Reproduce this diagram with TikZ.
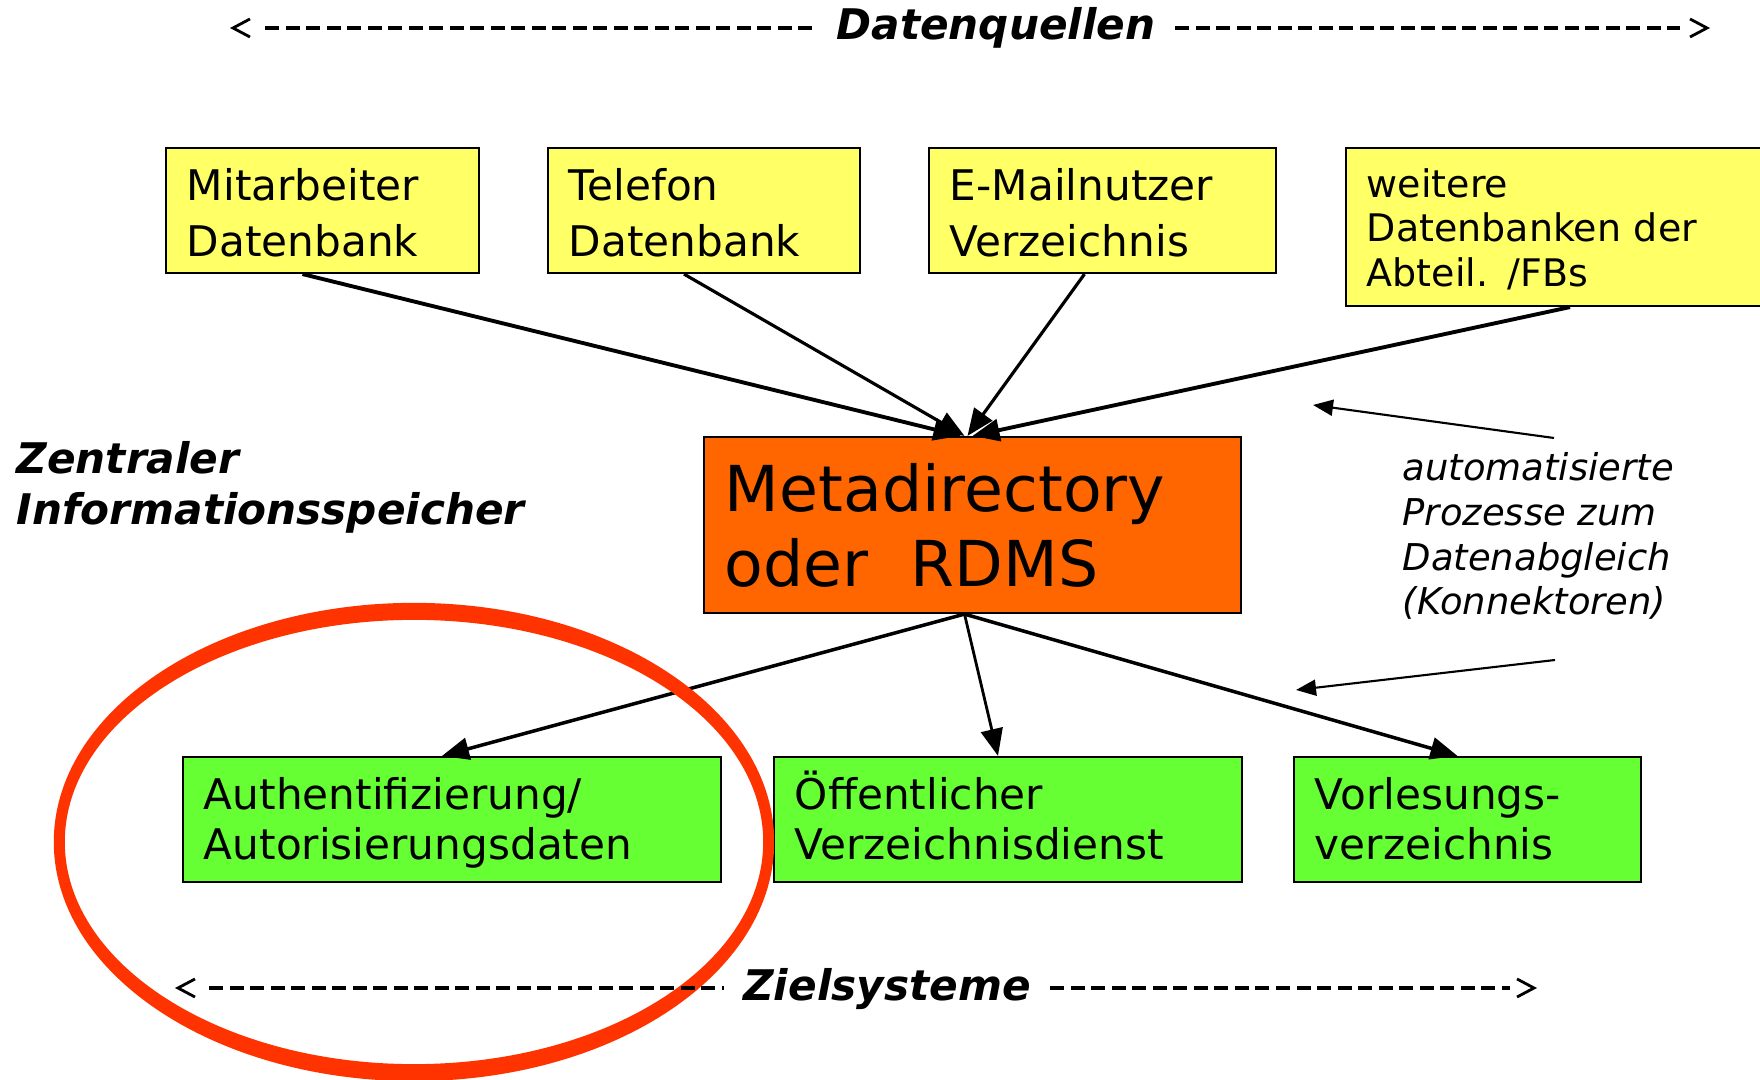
\documentclass[tikz,border=0pt]{standalone}
\usepackage{fontspec}
\setmainfont{DejaVu Sans}
\usepackage{xcolor}
\usepackage{tikz}
\usetikzlibrary{arrows.meta}
\usetikzlibrary{positioning}
\definecolor{srcyellow}{HTML}{FFFF66}
\definecolor{metaorange}{HTML}{FF6600}
\definecolor{tgtgreen}{HTML}{66FF33}
\definecolor{ringred}{HTML}{FF3300}
\tikzset{
    lines/.style 2 args = {execute at begin node={\rule{0pt}{#1}}, execute at end node={\rule[-#2]{0pt}{#2}}},
    srcbox/.style = {rectangle, draw=black, line width=0.6pt, fill=srcyellow, align=left, inner xsep=0.21cm, inner ysep=0pt, minimum height=1.25cm, font=\fontsize{12pt}{15.9pt}\selectfont, lines={10.5pt}{0pt}},
    metabox/.style = {rectangle, draw=black, line width=0.6pt, fill=metaorange, align=left, inner xsep=0.21cm, inner ysep=0pt, minimum height=1.76cm, font=\fontsize{18pt}{21.3pt}\selectfont, lines={14pt}{0pt}},
    tgtbox/.style = {rectangle, draw=black, line width=0.6pt, fill=tgtgreen, align=left, inner xsep=0.21cm, inner ysep=0pt, minimum height=1.25cm, font=\fontsize{12pt}{14.46pt}\selectfont, lines={12pt}{3.5pt}},
    feed/.style = {-{Triangle[length=0.27cm, width=0.22cm]}, line width=1pt},
    hint/.style = {-{Triangle[length=0.2cm, width=0.16cm]}, line width=0.6pt},
    head/.style = {inner xsep=0.19cm, inner ysep=0pt, font=\fontsize{12pt}{14pt}\selectfont\bfseries\itshape},
    hdash/.style = {line width=1.3pt, dash pattern=on 0.14cm off 0.065cm},
    chev/.style = {line width=0.8pt},
}

\begin{document}
\begin{tikzpicture}[x=0.01cm, y=-0.01cm]
  \useasboundingbox (0,0) rectangle (1760,1080);

  % data sources
  \node[srcbox, text width=2.71cm] (mitarb) at (322.5,210.5) {Mitarbeiter\\Datenbank};
  \node[srcbox, text width=2.70cm] (telefon) at (704,210.5) {Telefon\\Datenbank};
  \node[srcbox, text width=3.05cm] (email) at (1102.5,210.5) {E-Mailnutzer\\Verzeichnis};
  \node[srcbox, text width=4.06cm, minimum height=1.58cm, font=\fontsize{10.8pt}{12.6pt}\selectfont, lines={9.1pt}{2pt}] (weitere) at (1570,227) {weitere\\Datenbanken der\\Abteil. /FBs};

  % central store
  \node[metabox, text width=4.95cm] (meta) at (972.5,525) {Metadirectory\\oder\ \ RDMS};

  % target systems
  \node[tgtbox, text width=4.96cm] (auth) at (452,819.5) {Authentifizierung/\\Autorisierungsdaten};
  \node[tgtbox, text width=4.26cm] (oeff) at (1008,819.5) {Öffentlicher\\Verzeichnisdienst};
  \node[tgtbox, text width=3.05cm] (vorl) at (1467.5,819.5) {Vorlesungs-\\verzeichnis};

  \draw[feed, line width=1.1pt] ([xshift=-0.2cm]mitarb.south) -- ([xshift=-0.12cm]meta.north);
  \draw[feed, line width=0.9pt] ([xshift=-0.2cm]telefon.south) -- ([xshift=-0.08cm]meta.north);
  \draw[feed, line width=0.9pt] ([xshift=-0.18cm]email.south) -- ([xshift=-0.05cm]meta.north);
  \draw[feed, line width=1.1pt] (weitere.south) -- (meta.north);

  \draw[feed] ([xshift=-0.08cm]meta.south) -- ([xshift=-0.1cm]auth.north);
  \draw[feed, line width=0.8pt] ([xshift=-0.08cm]meta.south) -- ([xshift=-0.1cm]oeff.north);
  \draw[feed] ([xshift=-0.08cm]meta.south) -- ([xshift=-0.1cm]vorl.north);

  % side labels
  \node[anchor=base west, align=left, inner sep=0pt, font=\fontsize{12pt}{14.7pt}\selectfont\bfseries\itshape] (store) at (16,525) {Zentraler\\Informationsspeicher};
  \node[anchor=base west, align=left, inner sep=0pt, font=\fontsize{10.5pt}{12.75pt}\selectfont\itshape] (sync) at (1402,615) {automatisierte\\Prozesse zum\\Datenabgleich\\(Konnektoren)};
  \coordinate (syncA) at (1554,438);
  \coordinate (syncAtip) at (1313,405);
  \coordinate (syncB) at (1555,660);
  \coordinate (syncBtip) at (1296,690);
  \draw[hint] (syncA) -- (syncAtip);
  \draw[hint] (syncB) -- (syncBtip);

  % red ring
  \coordinate (ringc) at (414,842);
  \fill[ringred, even odd rule] (ringc) ellipse [x radius=3.60cm, y radius=2.39cm]
    (ringc) ellipse [x radius=3.49cm, y radius=2.22cm];

  % headers
  \node[head, anchor=base] (srctitle) at (996,40) {Datenquellen};
  \coordinate (srcA) at (265,28);
  \coordinate (srcB) at (1680,28);
  \draw[hdash] (srcA) -- (srcA -| srctitle.west);
  \draw[hdash] (srctitle.east |- srcB) -- (srcB);
  \draw[chev] ([xshift=-0.15cm, yshift=0.09cm]srcA) -- ++(-0.17cm,-0.09cm) -- ++(0.17cm,-0.09cm);
  \draw[chev] ([xshift=0.1cm, yshift=0.09cm]srcB) -- ++(0.17cm,-0.09cm) -- ++(-0.17cm,-0.09cm);

  \node[head, anchor=base] (tgttitle) at (887,1001) {Zielsysteme};
  \coordinate (tgtA) at (209,988);
  \coordinate (tgtB) at (1510,988);
  \draw[hdash] (tgtA) -- (tgtA -| tgttitle.west);
  \draw[hdash] (tgttitle.east |- tgtB) -- (tgtB);
  \draw[chev] ([xshift=-0.14cm, yshift=0.09cm]tgtA) -- ++(-0.17cm,-0.09cm) -- ++(0.17cm,-0.09cm);
  \draw[chev] ([xshift=0.07cm, yshift=0.09cm]tgtB) -- ++(0.17cm,-0.09cm) -- ++(-0.17cm,-0.09cm);
\end{tikzpicture}
\end{document}
